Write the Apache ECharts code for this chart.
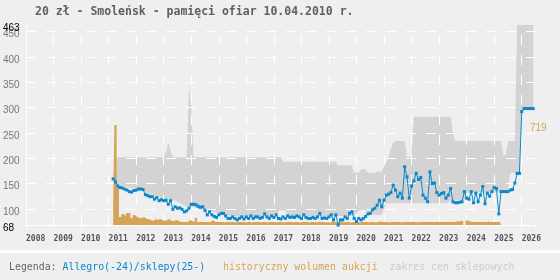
<!DOCTYPE html>
<html><head><meta charset="utf-8">
<script src="https://cdn.jsdelivr.net/npm/echarts@6/dist/echarts.min.js"></script>
<style>html,body{margin:0;padding:0;background:#efefef}#c{width:560px;height:280px}</style>
</head><body><div id="c"></div>
<script>
const titleText = '20 zł - Smoleńsk - pamięci ofiar 10.04.2010 r.';
const legendLabel = 'Legenda:';
const legendAllegro = 'Allegro(-24)/sklepy(25-)';
const legendVolume = 'historyczny wolumen aukcji';
const legendRange = 'zakres cen sklepowych';
const volumeLabel = '719';
const firstMonth = '2011-03';
const yearMin = 2008, yearMax = 2026.5;
const priceMin = 68, priceMax = 463;

// Allegro / shop price (monthly from firstMonth)
const allegroPrice = [
 159,153,145,142,141,139,137,134,133,136, 137,139,139,138,128,126,124,124,119,122,
 116,118,116,117,109,116,99,104,101,102, 99,94,96,101,109,109,108,105,103,104,
 97,88,94,88,85,83,88,91,91,86, 81,81,84,81,78,81,84,80,84,81,
 86,81,84,84,81,83,90,84,81,86, 83,88,81,80,84,81,86,83,84,83,
 86,84,81,88,83,81,81,83,81,84, 91,81,82,81,84,88,78,88,68,78,
 78,84,81,91,94,81,75,81,78,81, 85,90,91,98,101,107,117,104,117,127,
 129,132,147,137,124,131,121,183,163,121, 145,155,170,158,162,127,121,114,173,150,
 151,132,127,130,132,121,127,140,114,112, 112,113,114,134,121,119,134,112,131,114,
 127,144,110,131,125,134,142,140,90,134, 134,134,134,137,138,151,170,170,292,298,
 298,298,298,298
];
// shop price range (monthly from firstMonth)
const shopLow = [
 157,150,148,146,145,144,143,142,141,141, 141,141,141,140,133,130,128,127,125,124,
 123,122,121,120,119,118,117,116,114,112, 108,106,104,104,104,103,102,100,99,98,
 97,96,95,94,93,92,91,90,89,88, 87,87,86,86,85,85,85,85,85,85,
 85,85,85,85,85,85,85,85,85,85, 85,85,96,97,97,96,86,86,86,86,
 86,86,86,86,86,86,86,86,86,86, 86,86,86,86,86,86,86,86,86,86,
 86,86,86,86,86,86,92,96,98,98, 96,92,88,88,88,88,88,88,100,111,
 111,111,111,111,111,111,111,111,111,111, 111,111,111,111,111,111,111,111,111,111,
 111,111,111,111,111,111,111,117,117,117, 117,117,117,117,132,132,132,132,132,132,
 132,132,132,132,132,132,132,132,132,137, 137,137,137,171,171,171,171,171,298,298,
 298,298,298,298
];
const shopHigh = [
 169,198,202,202,202,202,202,202,202,202, 202,202,202,202,202,202,202,202,202,202,
 202,202,202,212,232,214,202,202,202,202, 202,202,202,342,305,202,202,202,202,202,
 202,202,202,202,202,202,202,202,202,202, 202,202,202,202,202,202,202,202,202,202,
 202,202,202,202,202,202,202,202,202,202, 202,202,202,202,193,193,193,193,193,193,
 193,193,193,193,193,193,193,193,193,193, 193,193,193,193,193,193,193,193,186,186,
 186,186,186,186,186,171,171,171,178,178, 178,171,171,171,171,173,173,173,183,192,
 203,218,230,234,234,234,234,234,203,203, 203,282,282,282,282,282,282,282,282,282,
 282,282,282,282,282,282,282,282,252,234, 234,234,234,234,234,234,234,234,234,234,
 234,234,234,234,234,234,234,234,234,234, 206,206,234,234,234,234,463,463,463,463,
 463,463,463,463
];
// historic auction volume (monthly from firstMonth), relative units
const auctionVolume = [
 22,100,38,8,11,9,12,12,7,10, 8,7,7,8,6,6,5,4,6,5,
 6,5,4,5,6,4,4,5,4,3, 3,3,3,5,4,3,7,3,3,3,
 3,3,3,5,3,3,3,3,2.5,3, 3,3,3,2.5,3,3,3,2.5,3,3,
 2.5,3,3,3,2.5,3,3,2.5,3,3, 3,2.5,3,3,2.5,3,3,3,2.5,3,
 3,2.5,3,3,3,2.5,3,3,2.5,3, 3,3,2.5,3,2.5,3,3,2.5,3,3,
 2.5,3,3,2.5,3,3,3,2.5,3,3, 3,2.5,3,3,2.5,3,3.5,3,3,3,
 2.5,3,3,3,3,2.5,3,3,3,3, 3,3,2.5,3,3,3,3,3,3,3,
 3,3,3,3,3,3,3,3,3,3.5, 3.5,4,4,null,4.5,3.5,3,3,3,3,
 3,3,3,3.5,3,3,3,3,3,3
];

const [fy, fm] = firstMonth.split('-').map(Number);
const mx = i => fy + (fm - 1 + i) / 12;
const blueData = allegroPrice.map((v, i) => [mx(i), v]);
const lowData = shopLow.map((v, i) => [mx(i), v]);
const highData = shopHigh.map((v, i) => [mx(i), v]);
const volData = auctionVolume.map((v, i) => [mx(i), v]);

const BG = '#efefef';
const BLUE = '#0a88cc', ORANGE = '#d6a458', GRAYBAND = '#d3d3d3';
const chart = echarts.init(document.getElementById('c'), null, {renderer: 'canvas'});
const valueAxisBase = {
  type: 'value', min: priceMin, max: priceMax, splitNumber: 8, z: 1,
  axisTick: {show: false}
};
chart.setOption({
  animation: false,
  backgroundColor: BG,
  grid: {left: 26, right: 24.5, top: 25, bottom: 55},
  xAxis: {
    type: 'value', min: yearMin, max: yearMax, interval: 1, z: 1,
    axisLine: {show: true, lineStyle: {color: '#ffffff', width: 1}},
    axisTick: {show: true, length: 3, lineStyle: {color: '#ffffff'}},
    axisLabel: {
      align: 'left', margin: 10, color: '#555', fontFamily: 'DejaVu Sans Mono',
      fontWeight: 'bold', fontSize: 8,
      formatter: v => Number.isInteger(v) ? String(v) : ''
    },
    splitLine: {show: true, showMaxLine: false, showMinLine: false,
      lineStyle: {color: '#ffffff', width: 1, type: [10, 10], dashOffset: 10}}
  },
  yAxis: [Object.assign({}, valueAxisBase, {
    axisLine: {show: true, lineStyle: {color: '#ffffff', width: 1}},
    axisLabel: {
      align: 'left', margin: 23, fontFamily: 'Liberation Sans', fontSize: 10,
      verticalAlign: 'top', lineHeight: 6, showMinLabel: false, showMaxLabel: false,
      color: '#777777',
      formatter: v => (v == priceMin || v == priceMax) ? '' : String(v)
    },
    splitLine: {show: true, showMinLine: false, showMaxLine: false,
      lineStyle: {color: '#ffffff', width: 1, type: [10, 10]}}
  }), {
    type: 'value', min: 0, max: 200, show: false
  }, Object.assign({}, valueAxisBase, {
    position: 'left', offset: 0,
    axisLine: {show: false},
    splitLine: {show: false},
    axisLabel: {
      align: 'left', margin: 23, fontFamily: 'Liberation Sans', fontSize: 10,
      verticalAlign: 'top', lineHeight: 6, showMinLabel: true, showMaxLabel: true,
      color: '#000000',
      formatter: v => (v == priceMin || v == priceMax) ? String(v) : ''
    }
  })],
  series: [
    {type: 'line', data: highData, symbol: 'none', lineStyle: {width: 0, opacity: 0},
     areaStyle: {color: GRAYBAND, opacity: 1}, z: 0, silent: true},
    {type: 'line', data: lowData, symbol: 'none', lineStyle: {width: 0, opacity: 0},
     areaStyle: {color: BG, opacity: 1}, z: 0, silent: true},
    {type: 'line', yAxisIndex: 1, data: volData, step: 'middle', symbol: 'none',
     lineStyle: {width: 0, opacity: 0}, areaStyle: {color: ORANGE, opacity: 1}, z: 2},
    {type: 'line', data: blueData, symbol: 'rect', symbolSize: 3, showAllSymbol: true,
     lineStyle: {color: BLUE, width: 1}, itemStyle: {color: BLUE}, z: 5}
  ],
  graphic: [
    {type: 'text', z: 20, left: 35, top: 6, style: {text: titleText, fill: '#606060',
      font: 'bold 11.5px "DejaVu Sans Mono"'}},
    {type: 'rect', z: 20, left: 0, top: 250, shape: {width: 560, height: 3}, style: {fill: '#ffffff'}},
    {type: 'text', z: 20, left: 9, top: 262, style: {
      text: legendLabel + ' {b|' + legendAllegro + '}   {o|' + legendVolume + '}  {g|' + legendRange + '}',
      fill: '#666666', font: '9.9px "DejaVu Sans Mono"',
      rich: {b: {fill: BLUE, font: '9.9px "DejaVu Sans Mono"'},
             o: {fill: ORANGE, font: '9.9px "DejaVu Sans Mono"'},
             g: {fill: '#cccccc', font: '9.9px "DejaVu Sans Mono"'}}}},
    {type: 'text', z: 20, left: 530, top: 123, style: {text: volumeLabel, fill: '#dba55a',
      font: '10px "Liberation Sans"'}}
  ]
});
</script></body></html>
